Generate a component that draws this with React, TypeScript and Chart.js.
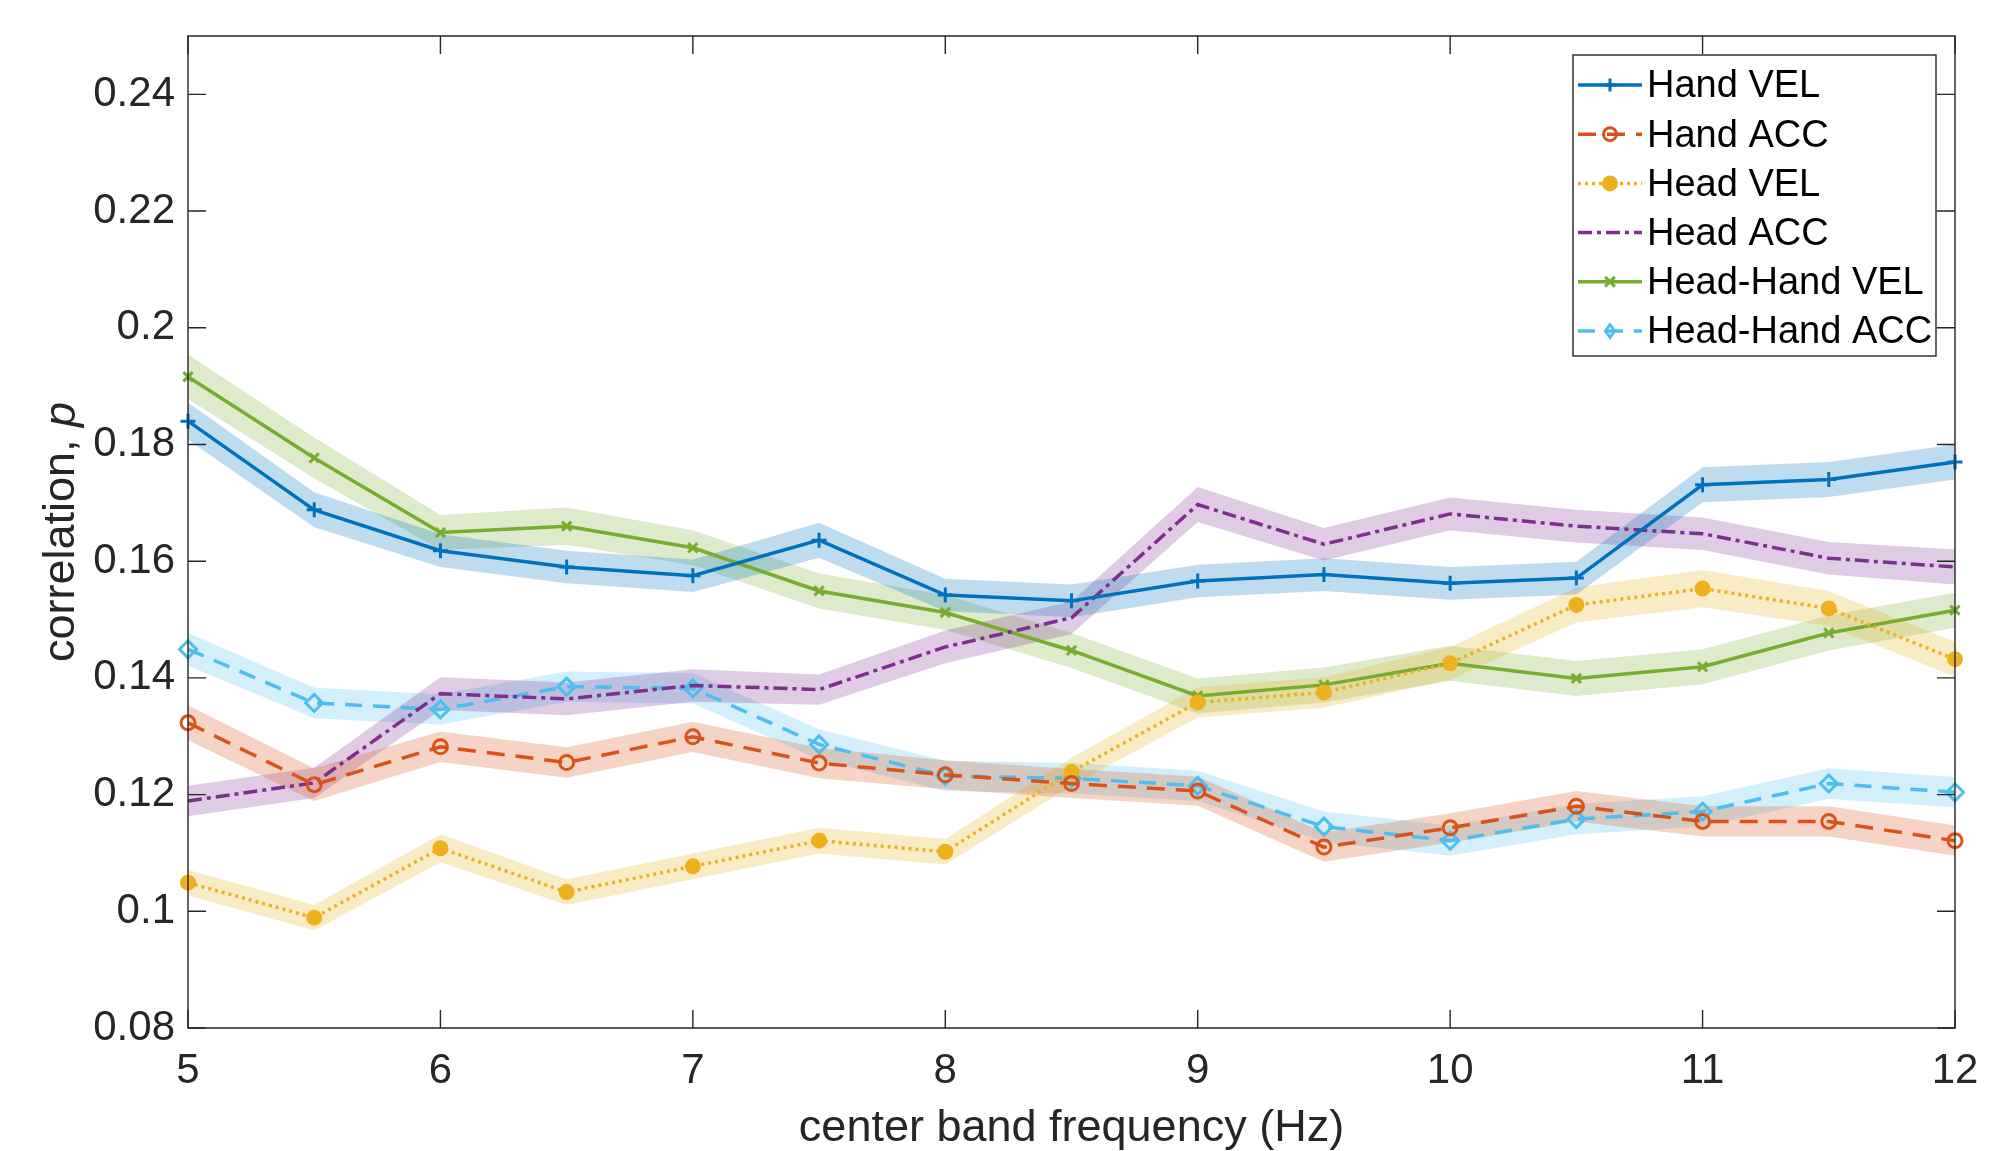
import React, { useEffect, useRef } from "react";
import { Chart, registerables } from "chart.js";

Chart.register(...registerables);

const FONT = "'Liberation Sans', Arial, Helvetica, sans-serif";
const AXIS_COLOR = "#262626";

// ---- data ----
const freqs = [5, 5.5, 6, 6.5, 7, 7.5, 8, 8.5, 9, 9.5, 10, 10.5, 11, 11.5, 12];
const xTickValues = [5, 6, 7, 8, 9, 10, 11, 12];
const yTickValues = [0.08, 0.1, 0.12, 0.14, 0.16, 0.18, 0.2, 0.22, 0.24];
const xLimits = [5, 12];
const yLimits = [0.08, 0.25];

const xTitle = "center band frequency (Hz)";
const yTitleMain = "correlation, ";
const yTitleItalic = "p";

const seriesLabels = ["Hand VEL", "Hand ACC", "Head VEL", "Head ACC", "Head-Hand VEL", "Head-Hand ACC"];

const handVel = [0.184, 0.1688, 0.1618, 0.159, 0.1575, 0.1636, 0.1542, 0.1532, 0.1566, 0.1577, 0.1562, 0.1571, 0.1731, 0.174, 0.177];
const handVelErr = [0.0032, 0.003, 0.0028, 0.0028, 0.0028, 0.003, 0.0028, 0.0028, 0.0028, 0.0028, 0.0028, 0.0028, 0.003, 0.003, 0.003];

const handAcc = [0.1323, 0.1217, 0.1282, 0.1255, 0.1299, 0.1254, 0.1234, 0.1219, 0.1206, 0.111, 0.1143, 0.118, 0.1154, 0.1154, 0.1121];
const handAccErr = [0.003, 0.0028, 0.0026, 0.0026, 0.0026, 0.0026, 0.0025, 0.0025, 0.0025, 0.0025, 0.0025, 0.0026, 0.0026, 0.0026, 0.0026];

const headVel = [0.1049, 0.0989, 0.1108, 0.1033, 0.1077, 0.1121, 0.1102, 0.1239, 0.1358, 0.1375, 0.1425, 0.1525, 0.1553, 0.1519, 0.1432];
const headVelErr = [0.0022, 0.0022, 0.0024, 0.0022, 0.0022, 0.0022, 0.0022, 0.0024, 0.0026, 0.0026, 0.0028, 0.003, 0.0032, 0.003, 0.003];

const headAcc = [0.1189, 0.122, 0.1373, 0.1364, 0.1387, 0.138, 0.1453, 0.1503, 0.1697, 0.1629, 0.1681, 0.166, 0.1647, 0.1605, 0.159];
const headAccErr = [0.0026, 0.0026, 0.0028, 0.0028, 0.0028, 0.0026, 0.0028, 0.0028, 0.003, 0.0028, 0.0028, 0.0028, 0.0028, 0.0028, 0.003];

const hhVel = [0.1916, 0.1777, 0.1649, 0.166, 0.1623, 0.1549, 0.1512, 0.1447, 0.1369, 0.1388, 0.1425, 0.1399, 0.1419, 0.1477, 0.1516];
const hhVelErr = [0.0038, 0.0035, 0.003, 0.0032, 0.003, 0.003, 0.003, 0.003, 0.003, 0.003, 0.003, 0.003, 0.003, 0.003, 0.003];

const hhAcc = [0.1449, 0.1357, 0.1346, 0.1385, 0.1382, 0.1286, 0.1232, 0.1228, 0.1215, 0.1145, 0.1121, 0.1158, 0.1171, 0.1219, 0.1204];
const hhAccErr = [0.0028, 0.0026, 0.0026, 0.0026, 0.0026, 0.0026, 0.0026, 0.0026, 0.0026, 0.0026, 0.0026, 0.0026, 0.0026, 0.0026, 0.0026];

// ---- styles ----
type SeriesStyle = {
  label: string;
  values: number[];
  err: number[];
  rgb: [number, number, number];
  dash: number[];
  marker: "cross" | "circle" | "crossRot" | "rectRot" | "none";
  radius: number;
  filled: boolean;
};

const series: SeriesStyle[] = [
  { label: seriesLabels[0], values: handVel, err: handVelErr, rgb: [0, 114, 189], dash: [], marker: "cross", radius: 7.5, filled: false },
  { label: seriesLabels[1], values: handAcc, err: handAccErr, rgb: [217, 83, 25], dash: [18, 11], marker: "circle", radius: 7, filled: false },
  { label: seriesLabels[2], values: headVel, err: headVelErr, rgb: [237, 177, 32], dash: [3, 4], marker: "circle", radius: 6.5, filled: true },
  { label: seriesLabels[3], values: headAcc, err: headAccErr, rgb: [126, 47, 142], dash: [14, 5, 4, 5], marker: "none", radius: 0, filled: false },
  { label: seriesLabels[4], values: hhVel, err: hhVelErr, rgb: [119, 172, 48], dash: [], marker: "crossRot", radius: 6.5, filled: false },
  { label: seriesLabels[5], values: hhAcc, err: hhAccErr, rgb: [77, 190, 238], dash: [17, 11], marker: "rectRot", radius: 8.5, filled: false },
];

const rgbStr = (c: number[], a = 1) => `rgba(${c[0]},${c[1]},${c[2]},${a})`;
const fmtTick = (v: number) => String(Number(v.toFixed(2)));

function drawMarker(ctx: CanvasRenderingContext2D, s: SeriesStyle, x: number, y: number) {
  if (s.marker === "none") return;
  const r = s.radius;
  const col = rgbStr(s.rgb);
  ctx.save();
  ctx.setLineDash([]);
  ctx.strokeStyle = col;
  ctx.fillStyle = col;
  ctx.lineWidth = 3;
  ctx.beginPath();
  if (s.marker === "cross") {
    ctx.moveTo(x - r, y); ctx.lineTo(x + r, y);
    ctx.moveTo(x, y - r); ctx.lineTo(x, y + r);
    ctx.stroke();
  } else if (s.marker === "crossRot") {
    const d = r * 0.75;
    ctx.moveTo(x - d, y - d); ctx.lineTo(x + d, y + d);
    ctx.moveTo(x - d, y + d); ctx.lineTo(x + d, y - d);
    ctx.stroke();
  } else if (s.marker === "circle") {
    ctx.arc(x, y, r, 0, Math.PI * 2);
    if (s.filled) ctx.fill();
    ctx.stroke();
  } else if (s.marker === "rectRot") {
    ctx.moveTo(x, y - r); ctx.lineTo(x + r * 0.7, y); ctx.lineTo(x, y + r); ctx.lineTo(x - r * 0.7, y); ctx.closePath();
    ctx.stroke();
  }
  ctx.restore();
}

const framePlugin = {
  id: "matlabFrame",
  afterDraw(chart: any) {
    const ctx: CanvasRenderingContext2D = chart.ctx;
    const a = chart.chartArea;
    const xs = chart.scales.x;
    const ys = chart.scales.y;
    const tl = 18;
    ctx.save();
    ctx.strokeStyle = AXIS_COLOR;
    ctx.lineWidth = 1.4;
    ctx.setLineDash([]);
    ctx.beginPath();
    ctx.rect(a.left, a.top, a.right - a.left, a.bottom - a.top);
    ctx.stroke();
    ctx.beginPath();
    xTickValues.forEach((v) => {
      const px = xs.getPixelForValue(v);
      ctx.moveTo(px, a.bottom); ctx.lineTo(px, a.bottom - tl);
      ctx.moveTo(px, a.top); ctx.lineTo(px, a.top + tl);
    });
    yTickValues.forEach((v) => {
      const py = ys.getPixelForValue(v);
      ctx.moveTo(a.left, py); ctx.lineTo(a.left + tl, py);
      ctx.moveTo(a.right, py); ctx.lineTo(a.right - tl, py);
    });
    ctx.stroke();

    // x title
    ctx.fillStyle = AXIS_COLOR;
    ctx.font = `45px ${FONT}`;
    ctx.textAlign = "center";
    ctx.textBaseline = "alphabetic";
    ctx.fillText(xTitle, (a.left + a.right) / 2, 1141);

    // y title (rotated, with italic p)
    ctx.save();
    ctx.translate(62, (a.top + a.bottom) / 2);
    ctx.rotate(-Math.PI / 2);
    ctx.textBaseline = "middle";
    ctx.textAlign = "left";
    ctx.font = `45px ${FONT}`;
    const w1 = ctx.measureText(yTitleMain).width;
    ctx.font = `italic 45px ${FONT}`;
    const w2 = ctx.measureText(yTitleItalic).width;
    const start = -(w1 + w2) / 2;
    ctx.font = `45px ${FONT}`;
    ctx.fillText(yTitleMain, start, 0);
    ctx.font = `italic 45px ${FONT}`;
    ctx.fillText(yTitleItalic, start + w1, 0);
    ctx.restore();

    // legend
    const boxW = 363;
    const boxH = 301;
    const boxL = a.right - 19 - boxW;
    const boxT = a.top + 19;
    ctx.fillStyle = "#ffffff";
    ctx.fillRect(boxL, boxT, boxW, boxH);
    ctx.strokeStyle = AXIS_COLOR;
    ctx.lineWidth = 1.4;
    ctx.strokeRect(boxL, boxT, boxW, boxH);
    ctx.font = `38px ${FONT}`;
    ctx.textAlign = "left";
    ctx.textBaseline = "middle";
    series.forEach((s, i) => {
      const cy = boxT + 30 + i * 49.2;
      ctx.save();
      ctx.strokeStyle = rgbStr(s.rgb);
      ctx.lineWidth = 3.5;
      ctx.setLineDash(s.dash);
      ctx.beginPath();
      ctx.moveTo(boxL + 5, cy);
      ctx.lineTo(boxL + 69, cy);
      ctx.stroke();
      ctx.restore();
      drawMarker(ctx, { ...s, radius: Math.min(s.radius, 6.5) }, boxL + 37, cy);
      ctx.fillStyle = "#000000";
      ctx.fillText(s.label, boxL + 74, cy + 2);
    });
    ctx.restore();
  },
};

export default function App() {
  const canvasRef = useRef<HTMLCanvasElement | null>(null);

  useEffect(() => {
    const canvas = canvasRef.current;
    if (!canvas) return;

    const bandSets: any[] = [];
    const lineSets: any[] = [];
    series.forEach((s) => {
      bandSets.push({
        label: s.label + " lower",
        data: freqs.map((f, i) => ({ x: f, y: s.values[i] - s.err[i] })),
        borderWidth: 0,
        pointRadius: 0,
        fill: false,
        order: 10,
        clip: false,
      });
      bandSets.push({
        label: s.label + " upper",
        data: freqs.map((f, i) => ({ x: f, y: s.values[i] + s.err[i] })),
        borderWidth: 0,
        pointRadius: 0,
        fill: "-1",
        backgroundColor: rgbStr(s.rgb, 0.25),
        order: 10,
        clip: false,
      });
      lineSets.push({
        label: s.label,
        data: freqs.map((f, i) => ({ x: f, y: s.values[i] })),
        borderColor: rgbStr(s.rgb),
        borderWidth: 3.5,
        borderDash: s.dash,
        tension: 0,
        fill: false,
        pointStyle: s.marker === "none" ? false : s.marker,
        pointRadius: s.radius,
        pointBorderWidth: 3,
        pointBorderColor: rgbStr(s.rgb),
        pointBackgroundColor: s.filled ? rgbStr(s.rgb) : "rgba(0,0,0,0)",
        order: 0,
        clip: false,
      });
    });

    const zeroPad = (scale: any) => {
      scale.paddingLeft = 0;
      scale.paddingRight = 0;
      scale.paddingTop = 0;
      scale.paddingBottom = 0;
    };

    const chart = new Chart(canvas, {
      type: "line",
      data: { datasets: [...bandSets, ...lineSets] },
      options: {
        responsive: false,
        animation: false,
        devicePixelRatio: 1,
        layout: { padding: { left: 0, top: 36, right: 34, bottom: 0 } },
        plugins: {
          legend: { display: false },
          tooltip: { enabled: false },
          title: { display: false },
        },
        scales: {
          x: {
            type: "linear",
            min: xLimits[0],
            max: xLimits[1],
            grid: { display: false, drawTicks: false },
            border: { display: false },
            afterBuildTicks: (scale: any) => {
              scale.ticks = xTickValues.map((v) => ({ value: v }));
            },
            afterFit: (scale: any) => {
              scale.height = 123;
              zeroPad(scale);
            },
            ticks: {
              autoSkip: false,
              maxRotation: 0,
              padding: 18,
              color: AXIS_COLOR,
              font: { family: FONT, size: 42 },
              callback: (v: any) => String(v),
            },
          },
          y: {
            type: "linear",
            min: yLimits[0],
            max: yLimits[1],
            grid: { display: false, drawTicks: false },
            border: { display: false },
            afterBuildTicks: (scale: any) => {
              scale.ticks = yTickValues.map((v) => ({ value: v }));
            },
            afterFit: (scale: any) => {
              scale.width = 188;
              zeroPad(scale);
            },
            ticks: {
              autoSkip: false,
              padding: 13,
              color: AXIS_COLOR,
              font: { family: FONT, size: 42 },
              callback: (v: any) => fmtTick(Number(v)),
            },
          },
        },
      },
      plugins: [framePlugin],
    });

    return () => {
      chart.destroy();
    };
  }, []);

  return (
    <div style={{ position: "absolute", left: 0, top: 0, width: 1989, height: 1151, background: "#ffffff" }}>
      <canvas ref={canvasRef} width={1989} height={1151} style={{ display: "block" }} />
    </div>
  );
}
